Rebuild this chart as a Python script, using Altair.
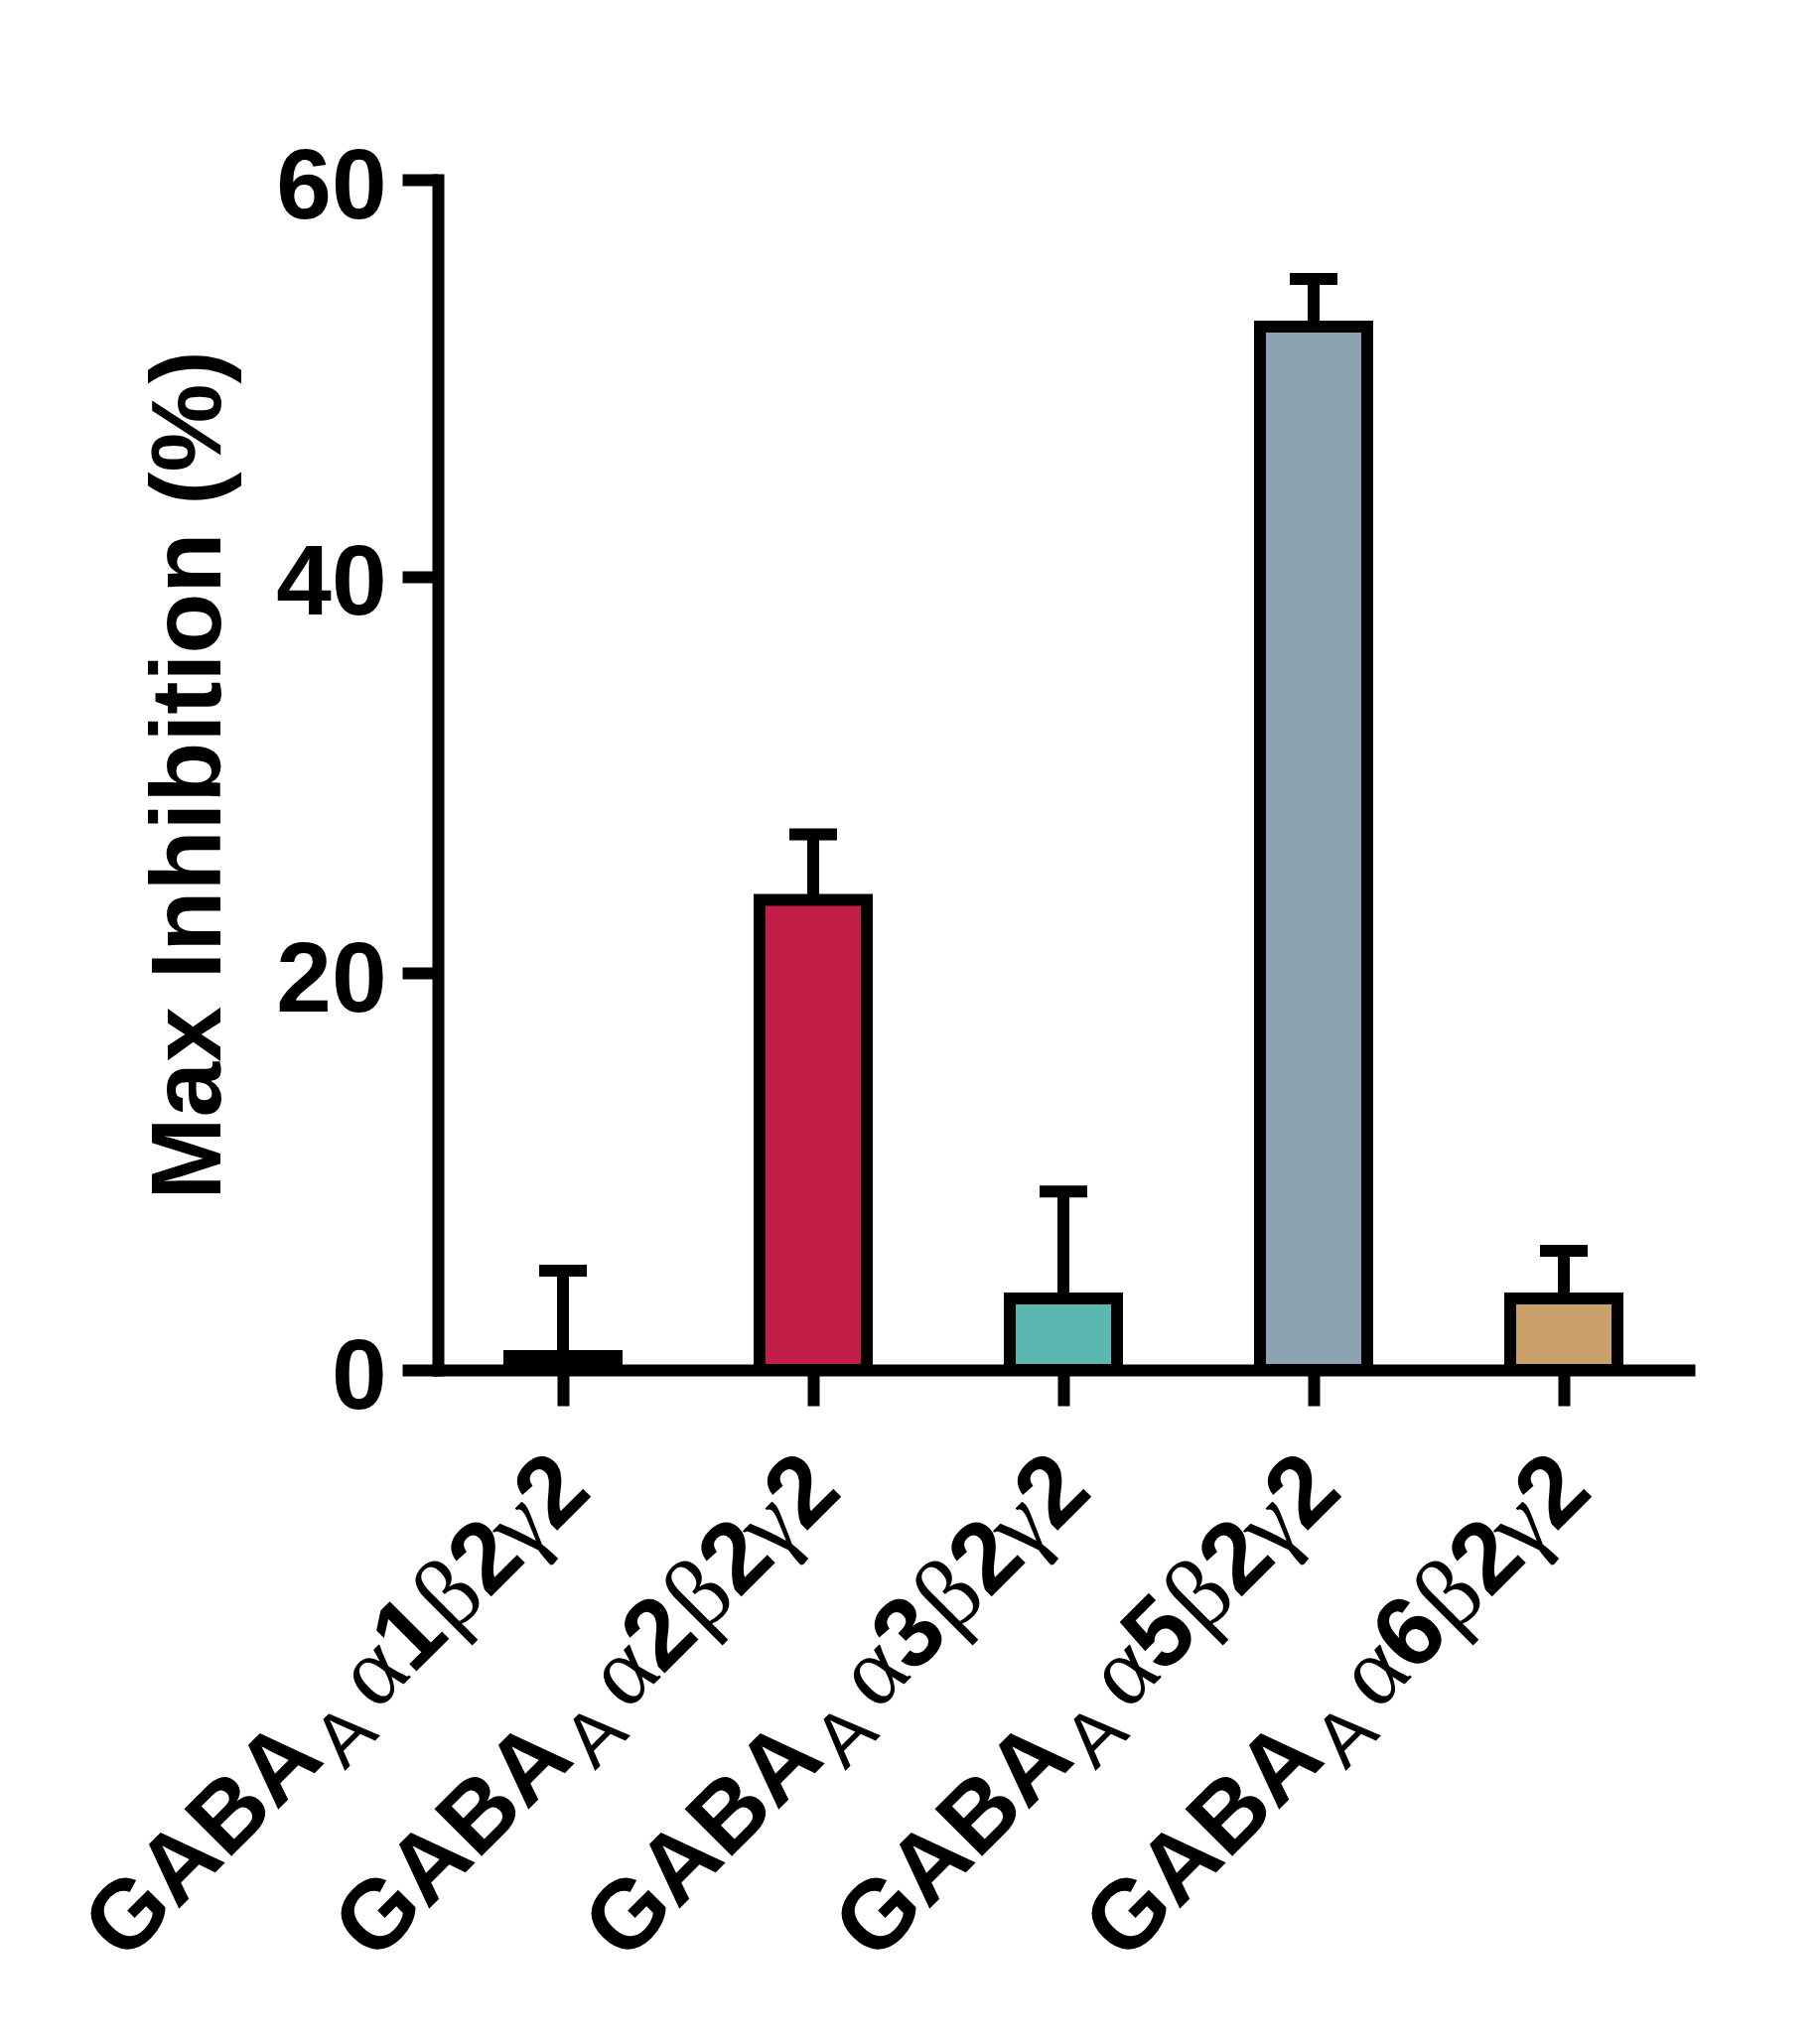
import altair as alt
import pandas as pd

# ---- data ----
categories = ["α1β2γ2", "α2β2γ2", "α3β2γ2", "α5β2γ2", "α6β2γ2"]
alpha_digits = ["1", "2", "3", "5", "6"]
mean_inhibition = [0.7, 23.7, 3.6, 52.6, 3.6]
sem_inhibition = [4.3, 3.3, 5.4, 2.4, 2.4]
bar_colors = ["#000000", "#C21E48", "#5BB7B0", "#8CA2B0", "#C9A06A"]
y_ticks = [0, 20, 40, 60]

df = pd.DataFrame({
    "cat": categories,
    "mean": mean_inhibition,
    "upper": [m + s for m, s in zip(mean_inhibition, sem_inhibition)],
    "gaba": ["GABA"] * 5,
    "sub": ["A"] * 5,
    "alpha": ["α"] * 5,
    "num": alpha_digits,
    "beta": ["β"] * 5,
    "two": ["2"] * 5,
    "gamma": ["γ"] * 5,
})

W, H = 1260, 1199
SANS = "Liberation Sans"
SERIF = "Liberation Serif"

x_enc = alt.X(
    "cat:N", sort=categories,
    scale=alt.Scale(paddingInner=0, paddingOuter=0),
    axis=alt.Axis(labels=False, title="", domainWidth=12, domainColor="black",
                  domainCap="square", tickWidth=12, tickSize=36, tickColor="black"),
)
y_axis = alt.Axis(
    values=y_ticks, title="Max Inhibition (%)", grid=False,
    domainWidth=12, domainColor="black", domainCap="square",
    tickWidth=12, tickSize=36, tickColor="black",
    labelFont=SANS, labelFontSize=100, labelFontWeight="bold", labelColor="black",
    labelPadding=16, labelOffset=8,
    titleFont=SANS, titleFontSize=100, titleFontWeight="bold", titleColor="black",
    titleAngle=270, titleBaseline="alphabetic", titleAlign="center",
    titleX=-220, titleY=H / 2,
)
y_scale = alt.Scale(domain=[0, 60], nice=False)

bars = alt.Chart().mark_bar(stroke="black", strokeWidth=12, size=108).encode(
    x=x_enc,
    y=alt.Y("mean:Q", scale=y_scale, axis=y_axis),
    color=alt.Color("cat:N", scale=alt.Scale(domain=categories, range=bar_colors), legend=None),
)
err = alt.Chart().mark_rule(strokeWidth=12, color="black").encode(
    x=alt.X("cat:N", sort=categories),
    y=alt.Y("mean:Q", scale=y_scale, axis=y_axis),
    y2="upper:Q",
)
caps = alt.Chart().mark_tick(size=48, thickness=12, color="black", opacity=1).encode(
    x=alt.X("cat:N", sort=categories),
    y=alt.Y("upper:Q", scale=y_scale, axis=y_axis),
)

layers = [bars, err, caps]

# rotated multi-style tick labels, right-aligned at label end
end_dx, end_dy = -66.5, 110.3
segments = [
    ("two", SANS, "bold", 100, 0, 0),
    ("gamma", SERIF, "normal", 100, -54, 0),
    ("two", SANS, "bold", 100, -94, 0),
    ("beta", SERIF, "normal", 100, -150, 0),
    ("num", SANS, "bold", 100, -203, 0),
    ("alpha", SERIF, "normal", 100, -258, 0),
    ("sub", SANS, "normal", 76, -324, 20),
    ("gaba", SANS, "bold", 98, -381, 0),
]
for field, font, weight, size, sdx, sdy in segments:
    layers.append(
        alt.Chart().mark_text(
            font=font, fontWeight=weight, fontSize=size, angle=315,
            align="right", baseline="alphabetic", color="black",
            dx=end_dx + sdx, dy=end_dy + sdy,
        ).encode(
            x=alt.X("cat:N", sort=categories),
            y=alt.value(H),
            text=alt.Text(f"{field}:N"),
        )
    )

chart = alt.layer(*layers, data=df).properties(
    width=W, height=H,
    padding={"left": 433, "top": 173, "right": 120, "bottom": 660},
    autosize=alt.AutoSizeParams(type="none"),
).configure_view(strokeWidth=0)

chart.save("out.html", embed_options={"renderer": "svg", "actions": False})
